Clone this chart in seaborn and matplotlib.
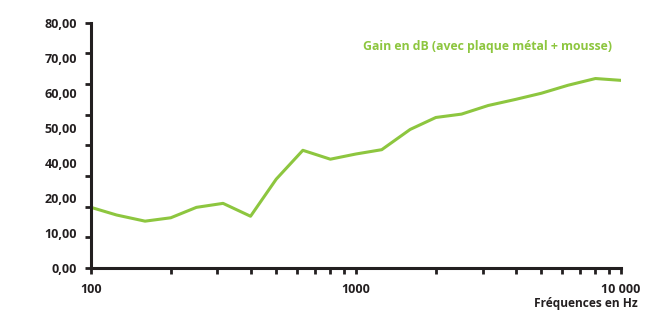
# GRAFICO DE GAIN (dB) EN FONCTION DE LA FREQUENCE
import pandas as pd
import matplotlib.pyplot as plt
import matplotlib.ticker as mticker
import seaborn as sns

# Données (bandes de tiers d'octave)
frequences = [100, 125, 160, 200, 250, 315, 400, 500, 630, 800, 1000,
              1250, 1600, 2000, 2500, 3150, 4000, 5000, 6300, 8000, 10000]
gain_db = [19.8, 17.3, 15.3, 16.4, 19.8, 21.1, 16.9, 29.0, 38.4, 35.5, 37.2,
           38.6, 45.2, 49.1, 50.2, 53.0, 55.0, 57.0, 59.6, 61.8, 61.2]
serie = 'Gain en dB (avec plaque métal + mousse)'
# textes de l'axe Y tels qu'ils apparaissent sur l'original (sans 30,00)
rotulos_y = ['0,00', '10,00', '20,00', '40,00', '50,00', '60,00', '70,00', '80,00']
rotulos_x = ['100', '1000', '10 000']

dados = pd.DataFrame({'freq': frequences, 'gain': gain_db})

sns.set_theme(style='white')
plt.rcParams['font.family'] = ['Open Sans', 'DejaVu Sans']
cor_texto = '#231f20'
verde = '#8dc63f'

fig = plt.figure(figsize=(6.45, 3.11), dpi=100)
ax = fig.add_axes([0.141, 0.138, 0.822, 0.789])

sns.lineplot(data=dados, x='freq', y='gain', color=verde, linewidth=2.2, ax=ax)

ax.set_xscale('log')
ax.set_xlim(100, 10000)
ax.set_ylim(0, 80)

# traits de l'axe Y tous les 10, textes répartis régulièrement comme sur l'original
ax.yaxis.remove_overlapping_locs = False
ax.set_yticks(range(0, 81, 10))
ax.set_yticklabels([])
pos_rotulos = [80 * i / (len(rotulos_y) - 1) for i in range(len(rotulos_y))]
ax.set_yticks(pos_rotulos, minor=True)
ax.set_yticklabels(rotulos_y, minor=True)

ax.set_xticks([100, 1000, 10000])
ax.set_xticklabels(rotulos_x)
ax.xaxis.set_minor_locator(mticker.LogLocator(base=10, subs=range(2, 10)))
ax.xaxis.set_minor_formatter(mticker.NullFormatter())

for s in ['top', 'right']:
    ax.spines[s].set_visible(False)
for s in ['left', 'bottom']:
    ax.spines[s].set_linewidth(2.2)
    ax.spines[s].set_color(cor_texto)

ax.tick_params(axis='y', which='major', direction='out', length=4, width=2,
               color=cor_texto, left=True)
ax.tick_params(axis='y', which='minor', length=0, labelsize=9,
               labelcolor=cor_texto, pad=10, left=True)
ax.tick_params(axis='x', which='both', direction='out', length=4, width=2,
               color=cor_texto, labelsize=9, labelcolor=cor_texto, pad=7, bottom=True)
for lbl in ax.get_yticklabels(minor=True) + ax.get_xticklabels():
    lbl.set_fontweight('bold')

ax.set_xlabel('')
ax.set_ylabel('')
fig.text(0.989, 0.003, 'Fréquences en Hz', ha='right', va='bottom',
         fontsize=8.6, fontweight='bold', color=cor_texto)
ax.text(0.983, 0.905, serie, transform=ax.transAxes, ha='right', va='center',
        fontsize=8.8, fontweight='bold', color=verde)

plt.savefig('out.png', dpi=100)
